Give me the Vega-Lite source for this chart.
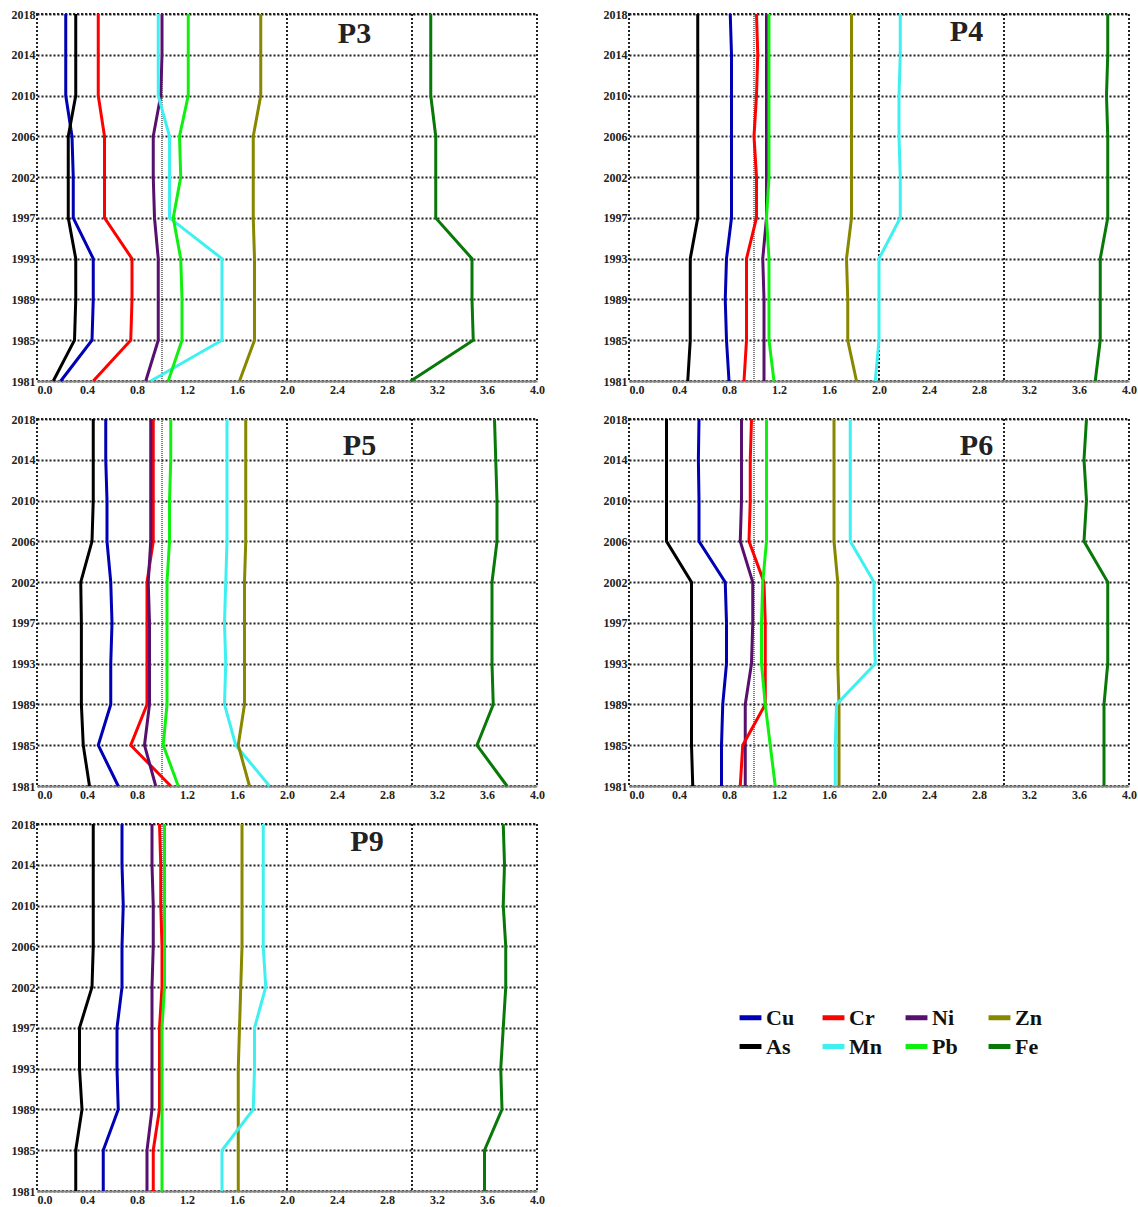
{
  "$schema": "https://vega.github.io/schema/vega-lite/v6.json",
  "padding": {"left": 2, "top": 7, "right": 0, "bottom": 0},
  "background": "white",
  "datasets": {
    "d": [
      {"p":"P3","e":"Cu","y":2018,"v":0.23},{"p":"P3","e":"Cu","y":2014,"v":0.23},{"p":"P3","e":"Cu","y":2010,"v":0.23},{"p":"P3","e":"Cu","y":2006,"v":0.28},{"p":"P3","e":"Cu","y":2002,"v":0.29},{"p":"P3","e":"Cu","y":1997,"v":0.29},{"p":"P3","e":"Cu","y":1993,"v":0.45},{"p":"P3","e":"Cu","y":1989,"v":0.45},{"p":"P3","e":"Cu","y":1985,"v":0.44},{"p":"P3","e":"Cu","y":1981,"v":0.19},
      {"p":"P3","e":"As","y":2018,"v":0.31},{"p":"P3","e":"As","y":2014,"v":0.31},{"p":"P3","e":"As","y":2010,"v":0.31},{"p":"P3","e":"As","y":2006,"v":0.25},{"p":"P3","e":"As","y":2002,"v":0.25},{"p":"P3","e":"As","y":1997,"v":0.25},{"p":"P3","e":"As","y":1993,"v":0.31},{"p":"P3","e":"As","y":1989,"v":0.31},{"p":"P3","e":"As","y":1985,"v":0.30},{"p":"P3","e":"As","y":1981,"v":0.13},
      {"p":"P3","e":"Cr","y":2018,"v":0.49},{"p":"P3","e":"Cr","y":2014,"v":0.49},{"p":"P3","e":"Cr","y":2010,"v":0.49},{"p":"P3","e":"Cr","y":2006,"v":0.54},{"p":"P3","e":"Cr","y":2002,"v":0.54},{"p":"P3","e":"Cr","y":1997,"v":0.54},{"p":"P3","e":"Cr","y":1993,"v":0.76},{"p":"P3","e":"Cr","y":1989,"v":0.76},{"p":"P3","e":"Cr","y":1985,"v":0.75},{"p":"P3","e":"Cr","y":1981,"v":0.45},
      {"p":"P3","e":"Ni","y":2018,"v":1.00},{"p":"P3","e":"Ni","y":2014,"v":1.00},{"p":"P3","e":"Ni","y":2010,"v":0.99},{"p":"P3","e":"Ni","y":2006,"v":0.93},{"p":"P3","e":"Ni","y":2002,"v":0.93},{"p":"P3","e":"Ni","y":1997,"v":0.94},{"p":"P3","e":"Ni","y":1993,"v":0.97},{"p":"P3","e":"Ni","y":1989,"v":0.97},{"p":"P3","e":"Ni","y":1985,"v":0.97},{"p":"P3","e":"Ni","y":1981,"v":0.87},
      {"p":"P3","e":"Mn","y":2018,"v":0.97},{"p":"P3","e":"Mn","y":2014,"v":0.97},{"p":"P3","e":"Mn","y":2010,"v":0.97},{"p":"P3","e":"Mn","y":2006,"v":1.06},{"p":"P3","e":"Mn","y":2002,"v":1.06},{"p":"P3","e":"Mn","y":1997,"v":1.06},{"p":"P3","e":"Mn","y":1993,"v":1.48},{"p":"P3","e":"Mn","y":1989,"v":1.48},{"p":"P3","e":"Mn","y":1985,"v":1.48},{"p":"P3","e":"Mn","y":1981,"v":0.91},
      {"p":"P3","e":"Pb","y":2018,"v":1.21},{"p":"P3","e":"Pb","y":2014,"v":1.21},{"p":"P3","e":"Pb","y":2010,"v":1.21},{"p":"P3","e":"Pb","y":2006,"v":1.14},{"p":"P3","e":"Pb","y":2002,"v":1.15},{"p":"P3","e":"Pb","y":1997,"v":1.09},{"p":"P3","e":"Pb","y":1993,"v":1.15},{"p":"P3","e":"Pb","y":1989,"v":1.16},{"p":"P3","e":"Pb","y":1985,"v":1.16},{"p":"P3","e":"Pb","y":1981,"v":1.05},
      {"p":"P3","e":"Zn","y":2018,"v":1.79},{"p":"P3","e":"Zn","y":2014,"v":1.79},{"p":"P3","e":"Zn","y":2010,"v":1.79},{"p":"P3","e":"Zn","y":2006,"v":1.73},{"p":"P3","e":"Zn","y":2002,"v":1.73},{"p":"P3","e":"Zn","y":1997,"v":1.73},{"p":"P3","e":"Zn","y":1993,"v":1.74},{"p":"P3","e":"Zn","y":1989,"v":1.74},{"p":"P3","e":"Zn","y":1985,"v":1.74},{"p":"P3","e":"Zn","y":1981,"v":1.62},
      {"p":"P3","e":"Fe","y":2018,"v":3.15},{"p":"P3","e":"Fe","y":2014,"v":3.15},{"p":"P3","e":"Fe","y":2010,"v":3.15},{"p":"P3","e":"Fe","y":2006,"v":3.19},{"p":"P3","e":"Fe","y":2002,"v":3.19},{"p":"P3","e":"Fe","y":1997,"v":3.19},{"p":"P3","e":"Fe","y":1993,"v":3.48},{"p":"P3","e":"Fe","y":1989,"v":3.48},{"p":"P3","e":"Fe","y":1985,"v":3.49},{"p":"P3","e":"Fe","y":1981,"v":2.99},

      {"p":"P4","e":"As","y":2018,"v":0.55},{"p":"P4","e":"As","y":2014,"v":0.55},{"p":"P4","e":"As","y":2010,"v":0.55},{"p":"P4","e":"As","y":2006,"v":0.55},{"p":"P4","e":"As","y":2002,"v":0.55},{"p":"P4","e":"As","y":1997,"v":0.55},{"p":"P4","e":"As","y":1993,"v":0.49},{"p":"P4","e":"As","y":1989,"v":0.49},{"p":"P4","e":"As","y":1985,"v":0.49},{"p":"P4","e":"As","y":1981,"v":0.47},
      {"p":"P4","e":"Cu","y":2018,"v":0.81},{"p":"P4","e":"Cu","y":2014,"v":0.82},{"p":"P4","e":"Cu","y":2010,"v":0.82},{"p":"P4","e":"Cu","y":2006,"v":0.82},{"p":"P4","e":"Cu","y":2002,"v":0.82},{"p":"P4","e":"Cu","y":1997,"v":0.82},{"p":"P4","e":"Cu","y":1993,"v":0.78},{"p":"P4","e":"Cu","y":1989,"v":0.77},{"p":"P4","e":"Cu","y":1985,"v":0.78},{"p":"P4","e":"Cu","y":1981,"v":0.80},
      {"p":"P4","e":"Cr","y":2018,"v":1.02},{"p":"P4","e":"Cr","y":2014,"v":1.03},{"p":"P4","e":"Cr","y":2010,"v":1.02},{"p":"P4","e":"Cr","y":2006,"v":1.00},{"p":"P4","e":"Cr","y":2002,"v":1.02},{"p":"P4","e":"Cr","y":1997,"v":1.02},{"p":"P4","e":"Cr","y":1993,"v":0.94},{"p":"P4","e":"Cr","y":1989,"v":0.94},{"p":"P4","e":"Cr","y":1985,"v":0.94},{"p":"P4","e":"Cr","y":1981,"v":0.92},
      {"p":"P4","e":"Ni","y":2018,"v":1.10},{"p":"P4","e":"Ni","y":2014,"v":1.10},{"p":"P4","e":"Ni","y":2010,"v":1.10},{"p":"P4","e":"Ni","y":2006,"v":1.10},{"p":"P4","e":"Ni","y":2002,"v":1.10},{"p":"P4","e":"Ni","y":1997,"v":1.10},{"p":"P4","e":"Ni","y":1993,"v":1.07},{"p":"P4","e":"Ni","y":1989,"v":1.08},{"p":"P4","e":"Ni","y":1985,"v":1.08},{"p":"P4","e":"Ni","y":1981,"v":1.08},
      {"p":"P4","e":"Pb","y":2018,"v":1.12},{"p":"P4","e":"Pb","y":2014,"v":1.12},{"p":"P4","e":"Pb","y":2010,"v":1.12},{"p":"P4","e":"Pb","y":2006,"v":1.12},{"p":"P4","e":"Pb","y":2002,"v":1.12},{"p":"P4","e":"Pb","y":1997,"v":1.10},{"p":"P4","e":"Pb","y":1993,"v":1.12},{"p":"P4","e":"Pb","y":1989,"v":1.12},{"p":"P4","e":"Pb","y":1985,"v":1.12},{"p":"P4","e":"Pb","y":1981,"v":1.16},
      {"p":"P4","e":"Zn","y":2018,"v":1.78},{"p":"P4","e":"Zn","y":2014,"v":1.78},{"p":"P4","e":"Zn","y":2010,"v":1.78},{"p":"P4","e":"Zn","y":2006,"v":1.78},{"p":"P4","e":"Zn","y":2002,"v":1.78},{"p":"P4","e":"Zn","y":1997,"v":1.78},{"p":"P4","e":"Zn","y":1993,"v":1.74},{"p":"P4","e":"Zn","y":1989,"v":1.75},{"p":"P4","e":"Zn","y":1985,"v":1.75},{"p":"P4","e":"Zn","y":1981,"v":1.82},
      {"p":"P4","e":"Mn","y":2018,"v":2.17},{"p":"P4","e":"Mn","y":2014,"v":2.17},{"p":"P4","e":"Mn","y":2010,"v":2.16},{"p":"P4","e":"Mn","y":2006,"v":2.16},{"p":"P4","e":"Mn","y":2002,"v":2.17},{"p":"P4","e":"Mn","y":1997,"v":2.17},{"p":"P4","e":"Mn","y":1993,"v":2.00},{"p":"P4","e":"Mn","y":1989,"v":2.00},{"p":"P4","e":"Mn","y":1985,"v":2.00},{"p":"P4","e":"Mn","y":1981,"v":1.97},
      {"p":"P4","e":"Fe","y":2018,"v":3.83},{"p":"P4","e":"Fe","y":2014,"v":3.83},{"p":"P4","e":"Fe","y":2010,"v":3.82},{"p":"P4","e":"Fe","y":2006,"v":3.83},{"p":"P4","e":"Fe","y":2002,"v":3.83},{"p":"P4","e":"Fe","y":1997,"v":3.83},{"p":"P4","e":"Fe","y":1993,"v":3.77},{"p":"P4","e":"Fe","y":1989,"v":3.77},{"p":"P4","e":"Fe","y":1985,"v":3.77},{"p":"P4","e":"Fe","y":1981,"v":3.73},

      {"p":"P5","e":"As","y":2018,"v":0.45},{"p":"P5","e":"As","y":2014,"v":0.45},{"p":"P5","e":"As","y":2010,"v":0.45},{"p":"P5","e":"As","y":2006,"v":0.44},{"p":"P5","e":"As","y":2002,"v":0.35},{"p":"P5","e":"As","y":1997,"v":0.355},{"p":"P5","e":"As","y":1993,"v":0.355},{"p":"P5","e":"As","y":1989,"v":0.355},{"p":"P5","e":"As","y":1985,"v":0.37},{"p":"P5","e":"As","y":1981,"v":0.42},
      {"p":"P5","e":"Cu","y":2018,"v":0.55},{"p":"P5","e":"Cu","y":2014,"v":0.55},{"p":"P5","e":"Cu","y":2010,"v":0.56},{"p":"P5","e":"Cu","y":2006,"v":0.56},{"p":"P5","e":"Cu","y":2002,"v":0.59},{"p":"P5","e":"Cu","y":1997,"v":0.60},{"p":"P5","e":"Cu","y":1993,"v":0.59},{"p":"P5","e":"Cu","y":1989,"v":0.59},{"p":"P5","e":"Cu","y":1985,"v":0.49},{"p":"P5","e":"Cu","y":1981,"v":0.65},
      {"p":"P5","e":"Cr","y":2018,"v":0.93},{"p":"P5","e":"Cr","y":2014,"v":0.93},{"p":"P5","e":"Cr","y":2010,"v":0.93},{"p":"P5","e":"Cr","y":2006,"v":0.93},{"p":"P5","e":"Cr","y":2002,"v":0.88},{"p":"P5","e":"Cr","y":1997,"v":0.88},{"p":"P5","e":"Cr","y":1993,"v":0.88},{"p":"P5","e":"Cr","y":1989,"v":0.88},{"p":"P5","e":"Cr","y":1985,"v":0.75},{"p":"P5","e":"Cr","y":1981,"v":1.07},
      {"p":"P5","e":"Ni","y":2018,"v":0.91},{"p":"P5","e":"Ni","y":2014,"v":0.91},{"p":"P5","e":"Ni","y":2010,"v":0.91},{"p":"P5","e":"Ni","y":2006,"v":0.91},{"p":"P5","e":"Ni","y":2002,"v":0.89},{"p":"P5","e":"Ni","y":1997,"v":0.90},{"p":"P5","e":"Ni","y":1993,"v":0.90},{"p":"P5","e":"Ni","y":1989,"v":0.90},{"p":"P5","e":"Ni","y":1985,"v":0.86},{"p":"P5","e":"Ni","y":1981,"v":0.95},
      {"p":"P5","e":"Pb","y":2018,"v":1.07},{"p":"P5","e":"Pb","y":2014,"v":1.07},{"p":"P5","e":"Pb","y":2010,"v":1.06},{"p":"P5","e":"Pb","y":2006,"v":1.06},{"p":"P5","e":"Pb","y":2002,"v":1.04},{"p":"P5","e":"Pb","y":1997,"v":1.04},{"p":"P5","e":"Pb","y":1993,"v":1.04},{"p":"P5","e":"Pb","y":1989,"v":1.04},{"p":"P5","e":"Pb","y":1985,"v":1.01},{"p":"P5","e":"Pb","y":1981,"v":1.13},
      {"p":"P5","e":"Mn","y":2018,"v":1.52},{"p":"P5","e":"Mn","y":2014,"v":1.52},{"p":"P5","e":"Mn","y":2010,"v":1.52},{"p":"P5","e":"Mn","y":2006,"v":1.52},{"p":"P5","e":"Mn","y":2002,"v":1.51},{"p":"P5","e":"Mn","y":1997,"v":1.50},{"p":"P5","e":"Mn","y":1993,"v":1.51},{"p":"P5","e":"Mn","y":1989,"v":1.50},{"p":"P5","e":"Mn","y":1985,"v":1.59},{"p":"P5","e":"Mn","y":1981,"v":1.86},
      {"p":"P5","e":"Zn","y":2018,"v":1.67},{"p":"P5","e":"Zn","y":2014,"v":1.67},{"p":"P5","e":"Zn","y":2010,"v":1.67},{"p":"P5","e":"Zn","y":2006,"v":1.67},{"p":"P5","e":"Zn","y":2002,"v":1.66},{"p":"P5","e":"Zn","y":1997,"v":1.66},{"p":"P5","e":"Zn","y":1993,"v":1.66},{"p":"P5","e":"Zn","y":1989,"v":1.66},{"p":"P5","e":"Zn","y":1985,"v":1.61},{"p":"P5","e":"Zn","y":1981,"v":1.70},
      {"p":"P5","e":"Fe","y":2018,"v":3.66},{"p":"P5","e":"Fe","y":2014,"v":3.67},{"p":"P5","e":"Fe","y":2010,"v":3.68},{"p":"P5","e":"Fe","y":2006,"v":3.68},{"p":"P5","e":"Fe","y":2002,"v":3.64},{"p":"P5","e":"Fe","y":1997,"v":3.64},{"p":"P5","e":"Fe","y":1993,"v":3.64},{"p":"P5","e":"Fe","y":1989,"v":3.65},{"p":"P5","e":"Fe","y":1985,"v":3.52},{"p":"P5","e":"Fe","y":1981,"v":3.76},

      {"p":"P6","e":"As","y":2018,"v":0.30},{"p":"P6","e":"As","y":2014,"v":0.30},{"p":"P6","e":"As","y":2010,"v":0.30},{"p":"P6","e":"As","y":2006,"v":0.30},{"p":"P6","e":"As","y":2002,"v":0.50},{"p":"P6","e":"As","y":1997,"v":0.50},{"p":"P6","e":"As","y":1993,"v":0.50},{"p":"P6","e":"As","y":1989,"v":0.50},{"p":"P6","e":"As","y":1985,"v":0.50},{"p":"P6","e":"As","y":1981,"v":0.51},
      {"p":"P6","e":"Cu","y":2018,"v":0.56},{"p":"P6","e":"Cu","y":2014,"v":0.555},{"p":"P6","e":"Cu","y":2010,"v":0.56},{"p":"P6","e":"Cu","y":2006,"v":0.56},{"p":"P6","e":"Cu","y":2002,"v":0.77},{"p":"P6","e":"Cu","y":1997,"v":0.78},{"p":"P6","e":"Cu","y":1993,"v":0.78},{"p":"P6","e":"Cu","y":1989,"v":0.75},{"p":"P6","e":"Cu","y":1985,"v":0.74},{"p":"P6","e":"Cu","y":1981,"v":0.74},
      {"p":"P6","e":"Ni","y":2018,"v":0.90},{"p":"P6","e":"Ni","y":2014,"v":0.90},{"p":"P6","e":"Ni","y":2010,"v":0.90},{"p":"P6","e":"Ni","y":2006,"v":0.89},{"p":"P6","e":"Ni","y":2002,"v":0.99},{"p":"P6","e":"Ni","y":1997,"v":0.99},{"p":"P6","e":"Ni","y":1993,"v":0.98},{"p":"P6","e":"Ni","y":1989,"v":0.93},{"p":"P6","e":"Ni","y":1985,"v":0.93},{"p":"P6","e":"Ni","y":1981,"v":0.93},
      {"p":"P6","e":"Cr","y":2018,"v":0.98},{"p":"P6","e":"Cr","y":2014,"v":0.97},{"p":"P6","e":"Cr","y":2010,"v":0.97},{"p":"P6","e":"Cr","y":2006,"v":0.96},{"p":"P6","e":"Cr","y":2002,"v":1.08},{"p":"P6","e":"Cr","y":1997,"v":1.09},{"p":"P6","e":"Cr","y":1993,"v":1.09},{"p":"P6","e":"Cr","y":1989,"v":1.09},{"p":"P6","e":"Cr","y":1985,"v":0.91},{"p":"P6","e":"Cr","y":1981,"v":0.89},
      {"p":"P6","e":"Pb","y":2018,"v":1.10},{"p":"P6","e":"Pb","y":2014,"v":1.10},{"p":"P6","e":"Pb","y":2010,"v":1.10},{"p":"P6","e":"Pb","y":2006,"v":1.10},{"p":"P6","e":"Pb","y":2002,"v":1.07},{"p":"P6","e":"Pb","y":1997,"v":1.06},{"p":"P6","e":"Pb","y":1993,"v":1.06},{"p":"P6","e":"Pb","y":1989,"v":1.09},{"p":"P6","e":"Pb","y":1985,"v":1.13},{"p":"P6","e":"Pb","y":1981,"v":1.17},
      {"p":"P6","e":"Zn","y":2018,"v":1.64},{"p":"P6","e":"Zn","y":2014,"v":1.64},{"p":"P6","e":"Zn","y":2010,"v":1.64},{"p":"P6","e":"Zn","y":2006,"v":1.64},{"p":"P6","e":"Zn","y":2002,"v":1.67},{"p":"P6","e":"Zn","y":1997,"v":1.67},{"p":"P6","e":"Zn","y":1993,"v":1.67},{"p":"P6","e":"Zn","y":1989,"v":1.68},{"p":"P6","e":"Zn","y":1985,"v":1.68},{"p":"P6","e":"Zn","y":1981,"v":1.68},
      {"p":"P6","e":"Mn","y":2018,"v":1.77},{"p":"P6","e":"Mn","y":2014,"v":1.77},{"p":"P6","e":"Mn","y":2010,"v":1.77},{"p":"P6","e":"Mn","y":2006,"v":1.77},{"p":"P6","e":"Mn","y":2002,"v":1.96},{"p":"P6","e":"Mn","y":1997,"v":1.96},{"p":"P6","e":"Mn","y":1993,"v":1.97},{"p":"P6","e":"Mn","y":1989,"v":1.66},{"p":"P6","e":"Mn","y":1985,"v":1.65},{"p":"P6","e":"Mn","y":1981,"v":1.65},
      {"p":"P6","e":"Fe","y":2018,"v":3.66},{"p":"P6","e":"Fe","y":2014,"v":3.64},{"p":"P6","e":"Fe","y":2010,"v":3.66},{"p":"P6","e":"Fe","y":2006,"v":3.64},{"p":"P6","e":"Fe","y":2002,"v":3.83},{"p":"P6","e":"Fe","y":1997,"v":3.83},{"p":"P6","e":"Fe","y":1993,"v":3.83},{"p":"P6","e":"Fe","y":1989,"v":3.80},{"p":"P6","e":"Fe","y":1985,"v":3.80},{"p":"P6","e":"Fe","y":1981,"v":3.80},

      {"p":"P9","e":"As","y":2018,"v":0.45},{"p":"P9","e":"As","y":2014,"v":0.45},{"p":"P9","e":"As","y":2010,"v":0.45},{"p":"P9","e":"As","y":2006,"v":0.45},{"p":"P9","e":"As","y":2002,"v":0.44},{"p":"P9","e":"As","y":1997,"v":0.34},{"p":"P9","e":"As","y":1993,"v":0.34},{"p":"P9","e":"As","y":1989,"v":0.36},{"p":"P9","e":"As","y":1985,"v":0.31},{"p":"P9","e":"As","y":1981,"v":0.31},
      {"p":"P9","e":"Cu","y":2018,"v":0.68},{"p":"P9","e":"Cu","y":2014,"v":0.68},{"p":"P9","e":"Cu","y":2010,"v":0.69},{"p":"P9","e":"Cu","y":2006,"v":0.68},{"p":"P9","e":"Cu","y":2002,"v":0.68},{"p":"P9","e":"Cu","y":1997,"v":0.64},{"p":"P9","e":"Cu","y":1993,"v":0.64},{"p":"P9","e":"Cu","y":1989,"v":0.65},{"p":"P9","e":"Cu","y":1985,"v":0.53},{"p":"P9","e":"Cu","y":1981,"v":0.53},
      {"p":"P9","e":"Ni","y":2018,"v":0.92},{"p":"P9","e":"Ni","y":2014,"v":0.92},{"p":"P9","e":"Ni","y":2010,"v":0.93},{"p":"P9","e":"Ni","y":2006,"v":0.93},{"p":"P9","e":"Ni","y":2002,"v":0.92},{"p":"P9","e":"Ni","y":1997,"v":0.92},{"p":"P9","e":"Ni","y":1993,"v":0.92},{"p":"P9","e":"Ni","y":1989,"v":0.92},{"p":"P9","e":"Ni","y":1985,"v":0.88},{"p":"P9","e":"Ni","y":1981,"v":0.88},
      {"p":"P9","e":"Cr","y":2018,"v":0.98},{"p":"P9","e":"Cr","y":2014,"v":0.99},{"p":"P9","e":"Cr","y":2010,"v":0.99},{"p":"P9","e":"Cr","y":2006,"v":1.00},{"p":"P9","e":"Cr","y":2002,"v":1.00},{"p":"P9","e":"Cr","y":1997,"v":0.98},{"p":"P9","e":"Cr","y":1993,"v":0.98},{"p":"P9","e":"Cr","y":1989,"v":0.98},{"p":"P9","e":"Cr","y":1985,"v":0.93},{"p":"P9","e":"Cr","y":1981,"v":0.93},
      {"p":"P9","e":"Pb","y":2018,"v":1.02},{"p":"P9","e":"Pb","y":2014,"v":1.02},{"p":"P9","e":"Pb","y":2010,"v":1.02},{"p":"P9","e":"Pb","y":2006,"v":1.02},{"p":"P9","e":"Pb","y":2002,"v":1.02},{"p":"P9","e":"Pb","y":1997,"v":1.00},{"p":"P9","e":"Pb","y":1993,"v":1.00},{"p":"P9","e":"Pb","y":1989,"v":1.00},{"p":"P9","e":"Pb","y":1985,"v":1.00},{"p":"P9","e":"Pb","y":1981,"v":1.00},
      {"p":"P9","e":"Zn","y":2018,"v":1.64},{"p":"P9","e":"Zn","y":2014,"v":1.64},{"p":"P9","e":"Zn","y":2010,"v":1.64},{"p":"P9","e":"Zn","y":2006,"v":1.64},{"p":"P9","e":"Zn","y":2002,"v":1.63},{"p":"P9","e":"Zn","y":1997,"v":1.62},{"p":"P9","e":"Zn","y":1993,"v":1.61},{"p":"P9","e":"Zn","y":1989,"v":1.61},{"p":"P9","e":"Zn","y":1985,"v":1.61},{"p":"P9","e":"Zn","y":1981,"v":1.61},
      {"p":"P9","e":"Mn","y":2018,"v":1.81},{"p":"P9","e":"Mn","y":2014,"v":1.81},{"p":"P9","e":"Mn","y":2010,"v":1.81},{"p":"P9","e":"Mn","y":2006,"v":1.81},{"p":"P9","e":"Mn","y":2002,"v":1.83},{"p":"P9","e":"Mn","y":1997,"v":1.74},{"p":"P9","e":"Mn","y":1993,"v":1.74},{"p":"P9","e":"Mn","y":1989,"v":1.73},{"p":"P9","e":"Mn","y":1985,"v":1.48},{"p":"P9","e":"Mn","y":1981,"v":1.48},
      {"p":"P9","e":"Fe","y":2018,"v":3.73},{"p":"P9","e":"Fe","y":2014,"v":3.74},{"p":"P9","e":"Fe","y":2010,"v":3.73},{"p":"P9","e":"Fe","y":2006,"v":3.75},{"p":"P9","e":"Fe","y":2002,"v":3.75},{"p":"P9","e":"Fe","y":1997,"v":3.73},{"p":"P9","e":"Fe","y":1993,"v":3.71},{"p":"P9","e":"Fe","y":1989,"v":3.72},{"p":"P9","e":"Fe","y":1985,"v":3.58},{"p":"P9","e":"Fe","y":1981,"v":3.58}
    ],
    "grid": [{"g": 2}, {"g": 3}, {"g": 4}],
    "grid1": [{"g": 1}],
    "one": [{}]
  },
  "config": {
    "font": "Liberation Serif",
    "view": {"stroke": "#222222", "strokeDash": [2, 2], "strokeWidth": 2},
    "axisX": {
      "grid": false,
      "ticks": false,
      "domainColor": "#888888",
      "domainWidth": 2,
      "labelFont": "Liberation Serif",
      "labelFontWeight": "bold",
      "labelFontSize": 12,
      "labelColor": "#222222",
      "labelPadding": 3,
      "labelFlush": false,
      "labelAlign": {"expr": "datum.value == 0 ? 'left' : 'center'"},
      "minExtent": 15,
      "maxExtent": 15
    },
    "axisY": {
      "grid": true,
      "gridDash": [2, 2],
      "gridColor": "#222222",
      "gridWidth": 2,
      "gridOpacity": 1,
      "domain": false,
      "ticks": false,
      "labelFont": "Liberation Serif",
      "labelFontWeight": "bold",
      "labelFontSize": 12,
      "labelColor": "#222222",
      "labelPadding": 2,
      "minExtent": 34,
      "maxExtent": 34
    },
    "legend": {
      "orient": "none",
      "legendX": 700,
      "legendY": 990,
      "direction": "horizontal",
      "columns": 4,
      "gridAlign": "all",
      "symbolType": "stroke",
      "symbolStrokeWidth": 5,
      "symbolSize": 480,
      "labelFont": "Liberation Serif",
      "labelFontSize": 22,
      "labelFontWeight": "bold",
      "labelColor": "#111111",
      "labelOffset": 2,
      "columnPadding": 13,
      "rowPadding": 4
    }
  },
  "bounds": "flush",
  "columns": 2,
  "spacing": {"row": 38, "column": 92},
  "concat": [
    {
      "width": 500, "height": 367,
      "layer": [
        {"data": {"name": "grid1"}, "mark": {"type": "rule", "strokeDash": [1, 1], "strokeWidth": 1.5, "color": "#555555"}, "encoding": {"x": {"field": "g", "type": "quantitative"}}},
        {"data": {"name": "grid"}, "mark": {"type": "rule", "strokeDash": [2, 2], "strokeWidth": 2, "color": "#222222"}, "encoding": {"x": {"field": "g", "type": "quantitative"}}},
        {"data": {"name": "d"}, "transform": [{"filter": "datum.p === 'P3'"}], "mark": {"type": "line", "strokeWidth": 3},
         "encoding": {
           "x": {"field": "v", "type": "quantitative", "scale": {"domain": [0, 4], "nice": false}, "title": null, "axis": {"values": [0, 0.4, 0.8, 1.2, 1.6, 2, 2.4, 2.8, 3.2, 3.6, 4], "format": ".1f"}},
           "y": {"field": "y", "type": "ordinal", "scale": {"domain": [2018, 2014, 2010, 2006, 2002, 1997, 1993, 1989, 1985, 1981], "padding": 0}, "title": null},
           "color": {"field": "e", "type": "nominal", "scale": {"domain": ["Cu", "Cr", "Ni", "Zn", "As", "Mn", "Pb", "Fe"], "range": ["#0000b4", "#ff0000", "#58106e", "#878700", "#000000", "#3ef0f0", "#10f010", "#087808"]}, "legend": {"title": null}},
           "order": {"field": "y", "type": "quantitative"}
         }},
        {"data": {"name": "one"}, "mark": {"type": "text", "fontSize": 30, "fontWeight": "bold", "color": "#222222", "baseline": "middle", "dy": 20}, "encoding": {"x": {"datum": 2.54, "type": "quantitative"}, "y": {"datum": 2018, "type": "ordinal"}, "text": {"value": "P3"}}}
      ]
    },
    {
      "width": 500, "height": 367,
      "layer": [
        {"data": {"name": "grid1"}, "mark": {"type": "rule", "strokeDash": [1, 1], "strokeWidth": 1.5, "color": "#555555"}, "encoding": {"x": {"field": "g", "type": "quantitative"}}},
        {"data": {"name": "grid"}, "mark": {"type": "rule", "strokeDash": [2, 2], "strokeWidth": 2, "color": "#222222"}, "encoding": {"x": {"field": "g", "type": "quantitative"}}},
        {"data": {"name": "d"}, "transform": [{"filter": "datum.p === 'P4'"}], "mark": {"type": "line", "strokeWidth": 3},
         "encoding": {
           "x": {"field": "v", "type": "quantitative", "scale": {"domain": [0, 4], "nice": false}, "title": null, "axis": {"values": [0, 0.4, 0.8, 1.2, 1.6, 2, 2.4, 2.8, 3.2, 3.6, 4], "format": ".1f"}},
           "y": {"field": "y", "type": "ordinal", "scale": {"domain": [2018, 2014, 2010, 2006, 2002, 1997, 1993, 1989, 1985, 1981], "padding": 0}, "title": null},
           "color": {"field": "e", "type": "nominal", "legend": {"title": null}},
           "order": {"field": "y", "type": "quantitative"}
         }},
        {"data": {"name": "one"}, "mark": {"type": "text", "fontSize": 30, "fontWeight": "bold", "color": "#222222", "baseline": "middle", "dy": 18}, "encoding": {"x": {"datum": 2.7, "type": "quantitative"}, "y": {"datum": 2018, "type": "ordinal"}, "text": {"value": "P4"}}}
      ]
    },
    {
      "width": 500, "height": 367,
      "layer": [
        {"data": {"name": "grid1"}, "mark": {"type": "rule", "strokeDash": [1, 1], "strokeWidth": 1.5, "color": "#555555"}, "encoding": {"x": {"field": "g", "type": "quantitative"}}},
        {"data": {"name": "grid"}, "mark": {"type": "rule", "strokeDash": [2, 2], "strokeWidth": 2, "color": "#222222"}, "encoding": {"x": {"field": "g", "type": "quantitative"}}},
        {"data": {"name": "d"}, "transform": [{"filter": "datum.p === 'P5'"}], "mark": {"type": "line", "strokeWidth": 3},
         "encoding": {
           "x": {"field": "v", "type": "quantitative", "scale": {"domain": [0, 4], "nice": false}, "title": null, "axis": {"values": [0, 0.4, 0.8, 1.2, 1.6, 2, 2.4, 2.8, 3.2, 3.6, 4], "format": ".1f"}},
           "y": {"field": "y", "type": "ordinal", "scale": {"domain": [2018, 2014, 2010, 2006, 2002, 1997, 1993, 1989, 1985, 1981], "padding": 0}, "title": null},
           "color": {"field": "e", "type": "nominal", "legend": {"title": null}},
           "order": {"field": "y", "type": "quantitative"}
         }},
        {"data": {"name": "one"}, "mark": {"type": "text", "fontSize": 30, "fontWeight": "bold", "color": "#222222", "baseline": "middle", "dy": 27}, "encoding": {"x": {"datum": 2.58, "type": "quantitative"}, "y": {"datum": 2018, "type": "ordinal"}, "text": {"value": "P5"}}}
      ]
    },
    {
      "width": 500, "height": 367,
      "layer": [
        {"data": {"name": "grid1"}, "mark": {"type": "rule", "strokeDash": [1, 1], "strokeWidth": 1.5, "color": "#555555"}, "encoding": {"x": {"field": "g", "type": "quantitative"}}},
        {"data": {"name": "grid"}, "mark": {"type": "rule", "strokeDash": [2, 2], "strokeWidth": 2, "color": "#222222"}, "encoding": {"x": {"field": "g", "type": "quantitative"}}},
        {"data": {"name": "d"}, "transform": [{"filter": "datum.p === 'P6'"}], "mark": {"type": "line", "strokeWidth": 3},
         "encoding": {
           "x": {"field": "v", "type": "quantitative", "scale": {"domain": [0, 4], "nice": false}, "title": null, "axis": {"values": [0, 0.4, 0.8, 1.2, 1.6, 2, 2.4, 2.8, 3.2, 3.6, 4], "format": ".1f"}},
           "y": {"field": "y", "type": "ordinal", "scale": {"domain": [2018, 2014, 2010, 2006, 2002, 1997, 1993, 1989, 1985, 1981], "padding": 0}, "title": null},
           "color": {"field": "e", "type": "nominal", "legend": {"title": null}},
           "order": {"field": "y", "type": "quantitative"}
         }},
        {"data": {"name": "one"}, "mark": {"type": "text", "fontSize": 30, "fontWeight": "bold", "color": "#222222", "baseline": "middle", "dy": 27}, "encoding": {"x": {"datum": 2.78, "type": "quantitative"}, "y": {"datum": 2018, "type": "ordinal"}, "text": {"value": "P6"}}}
      ]
    },
    {
      "width": 500, "height": 367,
      "layer": [
        {"data": {"name": "grid1"}, "mark": {"type": "rule", "strokeDash": [1, 1], "strokeWidth": 1.5, "color": "#555555"}, "encoding": {"x": {"field": "g", "type": "quantitative"}}},
        {"data": {"name": "grid"}, "mark": {"type": "rule", "strokeDash": [2, 2], "strokeWidth": 2, "color": "#222222"}, "encoding": {"x": {"field": "g", "type": "quantitative"}}},
        {"data": {"name": "d"}, "transform": [{"filter": "datum.p === 'P9'"}], "mark": {"type": "line", "strokeWidth": 3},
         "encoding": {
           "x": {"field": "v", "type": "quantitative", "scale": {"domain": [0, 4], "nice": false}, "title": null, "axis": {"values": [0, 0.4, 0.8, 1.2, 1.6, 2, 2.4, 2.8, 3.2, 3.6, 4], "format": ".1f"}},
           "y": {"field": "y", "type": "ordinal", "scale": {"domain": [2018, 2014, 2010, 2006, 2002, 1997, 1993, 1989, 1985, 1981], "padding": 0}, "title": null},
           "color": {"field": "e", "type": "nominal", "legend": {"title": null}},
           "order": {"field": "y", "type": "quantitative"}
         }},
        {"data": {"name": "one"}, "mark": {"type": "text", "fontSize": 30, "fontWeight": "bold", "color": "#222222", "baseline": "middle", "dy": 18}, "encoding": {"x": {"datum": 2.64, "type": "quantitative"}, "y": {"datum": 2018, "type": "ordinal"}, "text": {"value": "P9"}}}
      ]
    }
  ]
}
